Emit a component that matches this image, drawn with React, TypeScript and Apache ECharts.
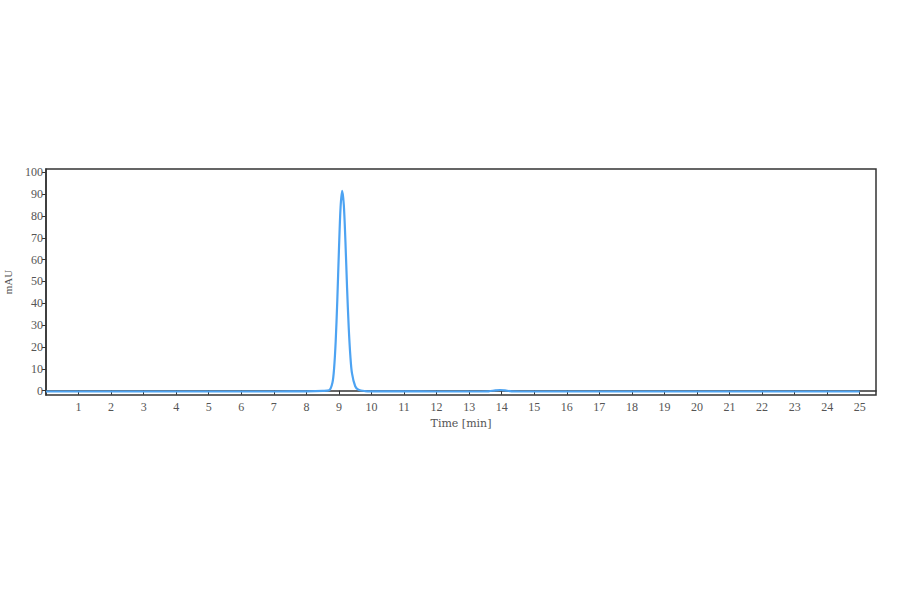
import { useEffect, useRef } from 'react';
import * as echarts from 'echarts';

// chromatogram: time (min) and signal (mAU)
const times = [
  0, 1, 2, 3, 4, 5, 6, 7, 8, 8.5, 8.7, 8.8, 8.85, 8.9, 8.95, 9.0, 9.05, 9.1,
  9.15, 9.2, 9.25, 9.3, 9.35, 9.4, 9.5, 9.6, 9.8, 10, 11, 12, 13, 13.6, 13.8,
  13.95, 14.1, 14.3, 15, 16, 17, 18, 19, 20, 21, 22, 23, 24, 25,
];
const signal = [
  -0.4, -0.4, -0.4, -0.4, -0.4, -0.4, -0.4, -0.4, -0.3, -0.1, 0.2, 3.6, 10,
  22.5, 41.5, 64.5, 84, 91.5, 85, 68, 47, 29, 16, 8, 2, 0.4, -0.2, -0.3, -0.3,
  -0.4, -0.4, -0.3, 0.1, 0.3, 0.1, -0.3, -0.4, -0.4, -0.4, -0.4, -0.4, -0.4,
  -0.4, -0.4, -0.4, -0.4, -0.4,
];
const xTicks = Array.from({ length: 25 }, (_, i) => i + 1);
const yTicks = [0, 10, 20, 30, 40, 50, 60, 70, 80, 90, 100];

const font = 'Liberation Serif';

export default function App() {
  const chartRef = useRef(null);

  useEffect(() => {
    document.body.style.margin = '0';
    const chart = echarts.init(chartRef.current, null, { renderer: 'svg' });
    const option = {
      animation: false,
      backgroundColor: '#fff',
      grid: {
        left: 46,
        top: 169,
        right: 24,
        bottom: 199,
        outerBoundsMode: 'none',
        containLabel: false,
        show: true,
        borderColor: '#333',
        borderWidth: 1.5,
      },
      xAxis: {
        type: 'value',
        min: 0,
        max: 25.5,
        name: 'Time [min]',
        nameLocation: 'middle',
        nameGap: 23,
        nameTextStyle: { fontFamily: 'DejaVu Serif', fontSize: 11, color: '#555' },
        axisLine: { show: true, lineStyle: { color: '#333', width: 1.5 } },
        axisTick: {
          show: true,
          length: 4,
          customValues: xTicks,
          lineStyle: { color: '#333' },
        },
        axisLabel: {
          customValues: xTicks,
          margin: 6,
          fontFamily: font,
          fontSize: 12,
          color: '#555',
        },
        splitLine: { show: false },
      },
      yAxis: {
        type: 'value',
        min: -2,
        max: 101.5,
        name: 'mAU',
        nameLocation: 'middle',
        nameGap: 33,
        nameRotate: 90,
        nameTextStyle: { fontFamily: font, fontSize: 11, color: '#555' },
        axisLine: { show: true, lineStyle: { color: '#333', width: 1.5 } },
        axisTick: {
          show: true,
          length: 4,
          customValues: yTicks,
          lineStyle: { color: '#333' },
        },
        axisLabel: {
          customValues: yTicks,
          margin: 3,
          fontFamily: font,
          fontSize: 12,
          color: '#555',
        },
        splitLine: { show: false },
      },
      series: [
        {
          type: 'line',
          data: times.map((t, i) => [t, signal[i]]),
          smooth: 0.3,
          showSymbol: false,
          lineStyle: { color: '#4da3f2', width: 2.2 },
        },
      ],
    };
    chart.setOption(option);
    return () => {
      chart.dispose();
    };
  }, []);

  return <div ref={chartRef} style={{ width: '900px', height: '594px' }} />;
}
